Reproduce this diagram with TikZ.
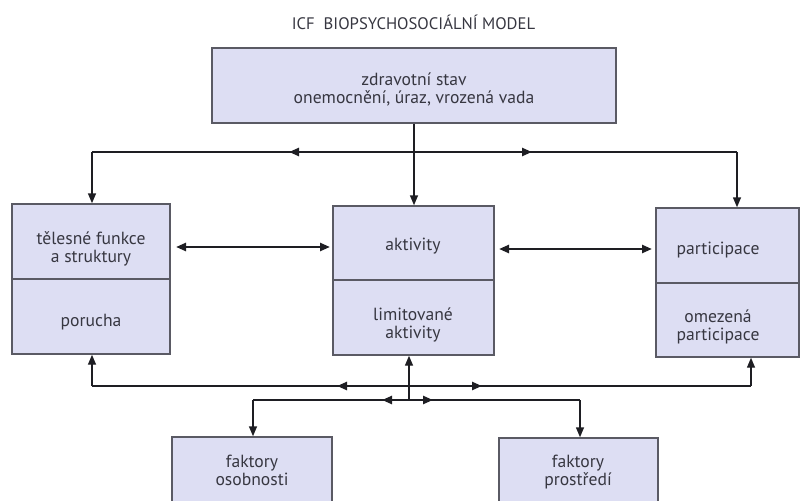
\documentclass[tikz,border=0pt]{standalone}
\usepackage{fontspec}
\setmainfont{PT Sans}
\usetikzlibrary{arrows.meta,fit}
\definecolor{boxfill}{RGB}{221,222,243}
\definecolor{boxline}{RGB}{90,90,100}
\definecolor{ink}{RGB}{30,30,35}
\definecolor{txt}{RGB}{55,55,65}
\tikzset{
  box/.style={draw=boxline, line width=1.1pt, fill=boxfill, inner sep=0pt},
  lbl/.style={align=center, text=txt, inner sep=0pt, anchor=center, font=\fontsize{13.2}{13.5}\selectfont},
  conn/.style={draw=ink, line width=1.1pt},
  tip/.style={-{Triangle[length=7.5pt,width=6pt]}},
  bothtip/.style={draw=ink, {Triangle[length=7.5pt,width=6pt]}-{Triangle[length=7.5pt,width=6pt]}, line width=1.8pt},
}
\begin{document}
\begin{tikzpicture}[x=0.75pt,y=-0.75pt]
\useasboundingbox (0,0) rectangle (802,500);
\clip (0,0) rectangle (802,500);
\node[font=\fontsize{12.5}{14}\selectfont, text=txt, anchor=base, inner sep=0pt] (title) at (413.5,29) {ICF\ \ BIOPSYCHOSOCIÁLNÍ MODEL};
\node[box, fit={(212,48) (616,123)}] (zdr) {};
\node[box, fit={(12,204) (170,279)}] (telU) {};
\node[box, fit={(12,279) (170,354)}] (telL) {};
\node[box, fit={(333,206) (494,280)}] (aktU) {};
\node[box, fit={(333,280) (494,355)}] (aktL) {};
\node[box, fit={(656,208) (799,283)}] (parU) {};
\node[box, fit={(656,283) (799,357)}] (parL) {};
\node[box, fit={(172,437) (332,510)}] (fos) {};
\node[box, fit={(499,438) (658,510)}] (fpr) {};
\node[lbl] (zdrT) at (414,89) {zdravotní stav\\onemocnění, úraz, vrozená vada};
\node[lbl] (telUT) at (91,249) {tělesné funkce\\a struktury};
\node[lbl] (telLT) at (91,322) {porucha};
\node[lbl] (aktUT) at (413,246) {aktivity};
\node[lbl] (aktLT) at (413,325) {limitované\\aktivity};
\node[lbl] (parUT) at (718,250) {participace};
\node[lbl] (parLT) at (718,327) {omezená\\participace};
\node[lbl] (fosT) at (252,470) {faktory\\osobnosti};
\node[lbl] (fprT) at (578,472) {faktory\\prostředí};
% top connectors
\coordinate (tl) at (92,152);
\coordinate (tr) at (737,152);
\coordinate (ta) at (289,152);
\coordinate (tb) at (532,152);
\draw[conn] (tl) -- (tr);
\draw[bothtip] (ta) -- (tb);
\draw[conn, tip] (zdr.south) -- (zdr.south |- aktU.north);
\draw[conn, tip] (tl) -- (tl |- telU.north);
\draw[conn, tip] (tr) -- (tr |- parU.north);
% between boxes
\coordinate (ha) at (176,247);
\coordinate (hb) at (330,247);
\coordinate (hc) at (499,249);
\coordinate (hd) at (652,249);
\draw[bothtip] (ha) -- (hb);
\draw[bothtip] (hc) -- (hd);
% bottom connectors
\coordinate (bl) at (92,386);
\coordinate (br) at (751,386);
\coordinate (ba) at (337,386);
\coordinate (bb) at (482,386);
\draw[conn] (bl) -- (br);
\draw[bothtip] (ba) -- (bb);
\draw[conn, tip] (bl) -- (bl |- telL.south);
\draw[conn, tip] (br) -- (br |- parL.south);
\coordinate (ll) at (253,400);
\coordinate (lr) at (580,400);
\coordinate (lc) at (409,400);
\coordinate (la) at (382,400);
\coordinate (lb) at (433,400);
\draw[conn] (ll) -- (lr);
\draw[bothtip] (la) -- (lb);
\draw[conn, tip] (lc) -- (lc |- aktL.south);
\draw[conn, tip] (ll) -- (ll |- fos.north);
\draw[conn, tip] (lr) -- (lr |- fpr.north);
\end{tikzpicture}
\end{document}
